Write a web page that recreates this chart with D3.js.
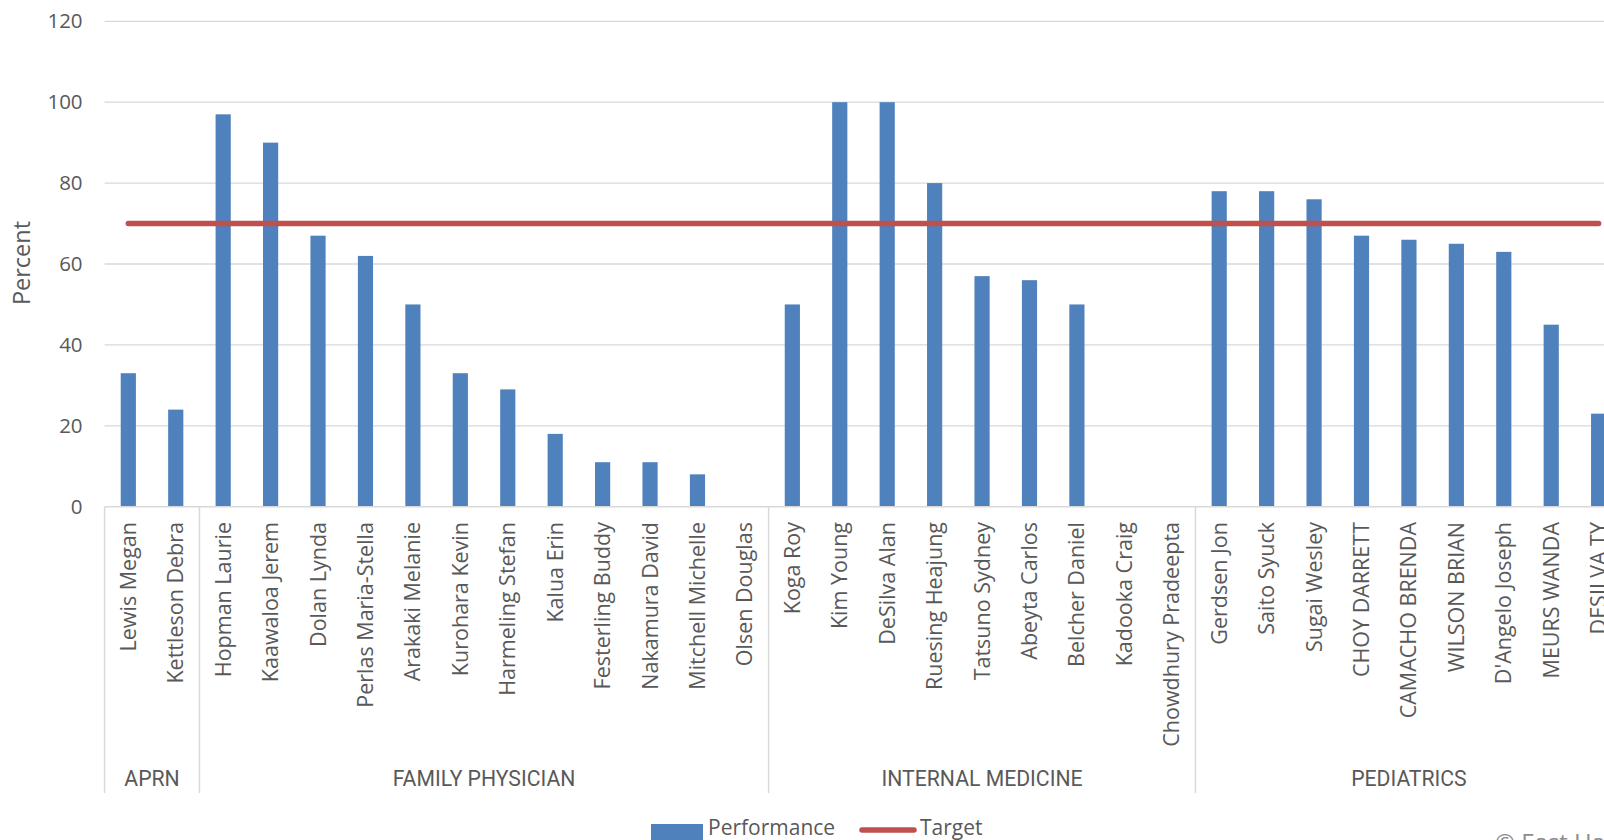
<!DOCTYPE html>
<html lang="en">
<head>
    <meta charset="UTF-8">
    <title>Performance by Provider</title>
    <script src="https://d3js.org/d3.v7.min.js"></script>
    <style>
        * {
            margin: 0;
            padding: 0;
            box-sizing: border-box;
        }

        body {
            background: #fff;
            overflow: hidden;
        }

        #chart svg {
            display: block;
            font-family: 'Open Sans', 'Noto Sans', sans-serif;
        }

        .tick-label, .name-label, .axis-title, .legend-text {
            fill: #595959;
        }

        .group-label {
            fill: #595959;
            font-family: Roboto, 'Noto Sans', sans-serif;
        }
    </style>
</head>
<body>
    <div id="chart"></div>

    <script>
        // providers, in the order they sit on the axis
        const names = [
            'Lewis Megan', 'Kettleson Debra',
            'Hopman Laurie', 'Kaawaloa Jerem', 'Dolan Lynda', 'Perlas Maria-Stella', 'Arakaki Melanie',
            'Kurohara Kevin', 'Harmeling Stefan', 'Kalua Erin', 'Festerling Buddy', 'Nakamura David',
            'Mitchell Michelle', 'Olsen Douglas',
            'Koga Roy', 'Kim Young', 'DeSilva Alan', 'Ruesing Heajung', 'Tatsuno Sydney', 'Abeyta Carlos',
            'Belcher Daniel', 'Kadooka Craig', 'Chowdhury Pradeepta',
            'Gerdsen Jon', 'Saito Syuck', 'Sugai Wesley', 'CHOY DARRETT', 'CAMACHO BRENDA', 'WILSON BRIAN',
            "D'Angelo Joseph", 'MEURS WANDA', 'DESILVA TY'
        ];

        const specialties = ['APRN', 'FAMILY PHYSICIAN', 'INTERNAL MEDICINE', 'PEDIATRICS'];
        const specialtyCounts = [2, 12, 9, 9];

        const performance = [
            33, 24,
            97, 90, 67, 62, 50, 33, 29, 18, 11, 11, 8, 0,
            50, 100, 100, 80, 57, 56, 50, 0, 0,
            78, 78, 76, 67, 66, 65, 63, 45, 23
        ];

        const target = names.map(() => 70);

        const yTicks = [0, 20, 40, 60, 80, 100, 120];

        const width = 1604;
        const height = 840;
        const plotLeft = 104.6;
        const plotRight = plotLeft + names.length * 47.43;   // runs past the window edge
        const plotTop = 21.3;
        const plotBottom = 506.7;
        const groupBottom = 793;

        const svg = d3.select('#chart')
            .append('svg')
            .attr('width', width)
            .attr('height', height);

        const x = d3.scaleBand()
            .domain(d3.range(names.length))
            .range([plotLeft, plotRight])
            .paddingInner(0.68)
            .paddingOuter(0.34);

        const y = d3.scaleLinear()
            .domain([0, 120])
            .range([plotBottom, plotTop]);

        const cx = i => x(i) + x.bandwidth() / 2;

        // gridlines
        svg.append('g')
            .selectAll('line')
            .data(yTicks.filter(t => t > 0))
            .join('line')
            .attr('x1', plotLeft)
            .attr('x2', plotRight)
            .attr('y1', d => y(d))
            .attr('y2', d => y(d))
            .attr('stroke', '#d9d9d9')
            .attr('stroke-width', 1.3);

        // y axis labels
        const yAxis = svg.append('g')
            .attr('transform', `translate(${plotLeft - 22},0)`)
            .call(d3.axisLeft(y).tickValues(yTicks).tickSize(0).tickPadding(0));
        yAxis.select('.domain').remove();
        yAxis.selectAll('text')
            .attr('class', 'tick-label')
            .attr('fill', null)
            .style('font-family', "'Open Sans', sans-serif")
            .style('font-size', '20.5px');

        svg.append('text')
            .attr('class', 'axis-title')
            .attr('transform', 'translate(22,263) rotate(-90)')
            .attr('text-anchor', 'middle')
            .attr('dy', '0.35em')
            .style('font-size', '23.5px')
            .text('Percent');

        // bars
        svg.append('g')
            .selectAll('rect')
            .data(performance)
            .join('rect')
            .attr('x', (d, i) => x(i))
            .attr('y', d => y(d))
            .attr('width', x.bandwidth())
            .attr('height', d => y(0) - y(d))
            .attr('fill', '#4f81bd');

        // x axis line + group separators
        svg.append('line')
            .attr('x1', plotLeft)
            .attr('x2', plotRight)
            .attr('y1', y(0))
            .attr('y2', y(0))
            .attr('stroke', '#d9d9d9')
            .attr('stroke-width', 1.5);

        const groupStarts = specialtyCounts.map((c, i) => d3.sum(specialtyCounts.slice(0, i)));
        const boundaries = groupStarts.concat([names.length]);

        svg.append('g')
            .selectAll('line')
            .data(boundaries)
            .join('line')
            .attr('x1', d => plotLeft + d * x.step())
            .attr('x2', d => plotLeft + d * x.step())
            .attr('y1', y(0))
            .attr('y2', groupBottom)
            .attr('stroke', '#d9d9d9')
            .attr('stroke-width', 1.5);

        // provider names
        svg.append('g')
            .selectAll('text')
            .data(names)
            .join('text')
            .attr('class', 'name-label')
            .attr('transform', (d, i) => `translate(${cx(i)},522) rotate(-90)`)
            .attr('text-anchor', 'end')
            .attr('dy', '0.35em')
            .style('font-size', '21.5px')
            .text(d => d);

        // specialty labels
        svg.append('g')
            .selectAll('text')
            .data(specialties)
            .join('text')
            .attr('class', 'group-label')
            .attr('x', (d, i) => plotLeft + (groupStarts[i] + specialtyCounts[i] / 2) * x.step())
            .attr('y', 786)
            .attr('text-anchor', 'middle')
            .style('font-size', '21.2px')
            .text(d => d);

        // target line
        const line = d3.line()
            .x((d, i) => cx(i))
            .y(d => y(d));

        svg.append('path')
            .datum(target)
            .attr('d', line)
            .attr('fill', 'none')
            .attr('stroke', '#c0504d')
            .attr('stroke-width', 5.5)
            .attr('stroke-linecap', 'round');

        // legend
        const legend = svg.append('g');
        legend.append('rect')
            .attr('x', 651)
            .attr('y', 824)
            .attr('width', 52)
            .attr('height', 16)
            .attr('fill', '#4f81bd');
        legend.append('text')
            .attr('class', 'legend-text')
            .attr('x', 708)
            .attr('y', 835)
            .style('font-size', '21px')
            .text('Performance');
        legend.append('line')
            .attr('x1', 862)
            .attr('x2', 914)
            .attr('y1', 830)
            .attr('y2', 830)
            .attr('stroke', '#c0504d')
            .attr('stroke-width', 5.5)
            .attr('stroke-linecap', 'round');
        legend.append('text')
            .attr('class', 'legend-text')
            .attr('x', 920)
            .attr('y', 835)
            .style('font-size', '21px')
            .text('Target');

        svg.append('text')
            .attr('x', 1495)
            .attr('y', 851)
            .attr('fill', '#8c8c8c')
            .style('font-size', '24px')
            .text('\u00a9 East Hawaii');
    </script>
</body>
</html>
